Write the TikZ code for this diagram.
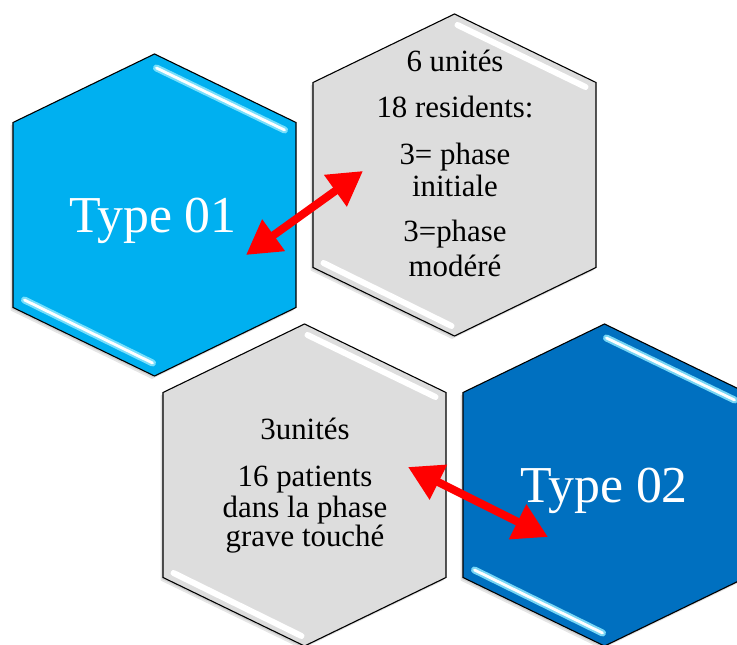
\documentclass[tikz,border=0pt]{standalone}
\usepackage{fontspec}
\setmainfont{Liberation Serif}
\usetikzlibrary{arrows.meta}
\definecolor{hexcyan}{HTML}{00B0F0}
\definecolor{hexblue}{HTML}{0070C0}
\definecolor{hexgrey}{HTML}{DDDDDD}
\definecolor{glowcyan}{HTML}{8CE8FF}
\definecolor{arrowred}{HTML}{FF0000}
\tikzset{
  hexoutline/.style={draw=black, line width=1.1bp, line join=miter},
  bigtype/.style={text=white, font=\fontsize{52}{60}\selectfont, anchor=base, inner sep=0pt},
  greytext/.style={text=black, font=\fontsize{31}{34}\selectfont, anchor=base, inner sep=0pt},
  redarrow/.style={draw=arrowred, line width=8bp, {Triangle[length=34bp,width=37bp]}-{Triangle[length=34bp,width=37bp]}},
  pics/hexa/.style n args={2}{code={
    \fill[black,opacity=0.10] (-2.5,158) -- (139,89.5) -- (139,-95.5) -- (-2.5,-164) -- (-144,-95.5) -- (-144,89.5) -- cycle;
    \fill[black,opacity=0.10] (-1.2,159.5) -- (140.3,91) -- (140.3,-94) -- (-1.2,-162.5) -- (-142.7,-94) -- (-142.7,91) -- cycle;
    \path[hexoutline, fill=#1] (0,161) -- (141.5,92.5) -- (141.5,-92.5) -- (0,-161) -- (-141.5,-92.5) -- (-141.5,92.5) -- cycle;
    #2
  }},
}
\newcommand{\bluehl}{%
  \draw[glowcyan, line width=7bp, line cap=round, opacity=0.85] (2,147) -- (130,85);
  \draw[white, line width=2.8bp, line cap=round] (2,147) -- (130,85);
  \draw[glowcyan, line width=7bp, line cap=round, opacity=0.85] (-130,-85) -- (-2,-148);
  \draw[white, line width=2.8bp, line cap=round] (-130,-85) -- (-2,-148);
}
\newcommand{\greyhl}{%
  \draw[white, line width=6bp, line cap=round] (3,150) -- (131,88);
  \draw[white, line width=6bp, line cap=round] (-131,-88) -- (-3,-151);
}
\begin{document}
\begin{tikzpicture}[x=1bp, y=1bp]
  \useasboundingbox (0,0) rectangle (737,645);
  % hexagons
  \pic at (154.5,430) {hexa={hexcyan}{\bluehl}};
  \pic at (454.5,470) {hexa={hexgrey}{\greyhl}};
  \pic at (304.5,160) {hexa={hexgrey}{\greyhl}};
  \pic at (604.5,160) {hexa={hexblue}{\bluehl}};
  % texts
  \node[bigtype] (type1) at (153,412) {Type 01};
  \node[bigtype] (type2) at (604,142) {Type 02};
  \node[greytext] (g1) at (455,573) {6 unités};
  \node[greytext] (g2) at (455,527) {18 residents:};
  \node[greytext] (g3) at (455,480) {3= phase};
  \node[greytext] (g4) at (455,448) {initiale};
  \node[greytext] (g5) at (455,403) {3=phase};
  \node[greytext] (g6) at (455,368) {modéré};
  \node[greytext] (h1) at (305,205) {3unités};
  \node[greytext] (h2) at (305,158) {16 patients};
  \node[greytext] (h3) at (305,127) {dans la phase};
  \node[greytext] (h4) at (305,98) {grave touché};
  % arrows
  \coordinate (a1s) at (246,390);
  \coordinate (a1e) at (363,474);
  \coordinate (a2s) at (408,178);
  \coordinate (a2e) at (548,108);
  \draw[redarrow] (a1s) -- (a1e);
  \draw[redarrow] (a2s) -- (a2e);
\end{tikzpicture}
\end{document}
